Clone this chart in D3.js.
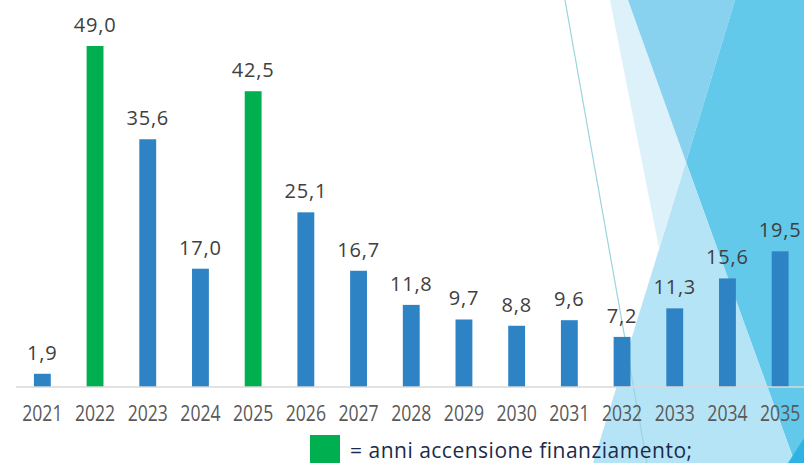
<!DOCTYPE html>
<html>
<head>
<meta charset="utf-8">
<script src="https://cdn.jsdelivr.net/npm/d3@7"></script>
<style>
  html, body { margin: 0; padding: 0; background: #ffffff; }
  svg { display: block; font-family: "Open Sans", sans-serif; }
</style>
</head>
<body>
<div id="chart"></div>
<script>
// data
var years = ['2021', '2022', '2023', '2024', '2025', '2026', '2027', '2028',
             '2029', '2030', '2031', '2032', '2033', '2034', '2035'];
var values = [1.9, 49.0, 35.6, 17.0, 42.5, 25.1, 16.7, 11.8, 9.7, 8.8, 9.6, 7.2, 11.3, 15.6, 19.5];
var loanYears = ['2022', '2025'];
var legendLabel = '= anni accensione finanziamento;';

var width = 804, height = 463;
var baseY = 387;

var svg = d3.select('#chart').append('svg')
    .attr('width', width)
    .attr('height', height);

// background decoration (theme triangles on the right)
var bg = svg.append('g').attr('class', 'background');
var shapes = [
    { fill: '#dcf1fa', pts: [[610, 0], [628, 0], [686, 162], [659, 248]] },
    { fill: '#88d2ef', pts: [[628, 0], [735, 0], [686, 162]] },
    { fill: '#63c9eb', pts: [[735, 0], [804, 0], [804, 463], [795, 463], [743, 320], [686, 162]] },
    { fill: '#b5e4f6', pts: [[686, 162], [795, 463], [593, 463]] },
    { fill: '#2fb3e2', pts: [[804, 438], [804, 463], [788, 463]] }
];
bg.selectAll('polygon')
    .data(shapes)
    .enter().append('polygon')
    .attr('points', function (d) { return d.pts.map(function (p) { return p.join(','); }).join(' '); })
    .attr('fill', function (d) { return d.fill; });

bg.append('line')
    .attr('x1', 565).attr('y1', 0)
    .attr('x2', 647).attr('y2', 463)
    .attr('stroke', '#9ad4de')
    .attr('stroke-width', 1.2);

var x = d3.scaleBand()
    .domain(years)
    .range([16, 806.5])
    .paddingInner(0.68)
    .paddingOuter(0.34);

var y = d3.scaleLinear()
    .domain([0, 49])
    .range([baseY, 46]);

function fmt(v) {
    return d3.format('.1f')(v).replace('.', ',');
}

// bars
svg.append('g')
    .selectAll('rect')
    .data(values)
    .enter().append('rect')
    .attr('x', function (d, i) { return x(years[i]); })
    .attr('y', function (d) { return y(d); })
    .attr('width', x.bandwidth())
    .attr('height', function (d) { return baseY - y(d); })
    .attr('fill', function (d, i) { return loanYears.includes(years[i]) ? '#00b050' : '#2e83c5'; });

// value labels
svg.append('g')
    .selectAll('text')
    .data(values)
    .enter().append('text')
    .attr('x', function (d, i) { return x(years[i]) + x.bandwidth() / 2; })
    .attr('y', function (d) { return y(d) - 14; })
    .attr('text-anchor', 'middle')
    .attr('font-size', '20px')
    .attr('letter-spacing', '0.8px')
    .attr('fill', '#404040')
    .text(function (d) { return fmt(d); });

// x axis
var xAxis = svg.append('g')
    .attr('transform', 'translate(0,' + baseY + ')')
    .call(d3.axisBottom(x).tickSize(0).tickPadding(0));
xAxis.select('.domain').remove();
xAxis.append('line')
    .attr('x1', 16).attr('x2', width)
    .attr('y1', 0).attr('y2', 0)
    .attr('stroke', '#d9d9d9')
    .attr('stroke-width', 1.5);
xAxis.selectAll('.tick text')
    .attr('y', 0)
    .attr('dy', null)
    .attr('transform', 'translate(0,34) scale(0.8,1)')
    .attr('font-family', '"Open Sans", sans-serif')
    .attr('font-size', '22px')
    .attr('fill', '#595959');

// legend
var legend = svg.append('g').attr('class', 'legend');
legend.append('rect')
    .attr('x', 310).attr('y', 435)
    .attr('width', 30).attr('height', 28)
    .attr('fill', '#00b050');
legend.append('text')
    .attr('x', 350).attr('y', 458)
    .attr('font-size', '21px')
    .attr('letter-spacing', '0.5px')
    .attr('fill', '#1b2a4a')
    .text(legendLabel);
</script>
</body>
</html>
